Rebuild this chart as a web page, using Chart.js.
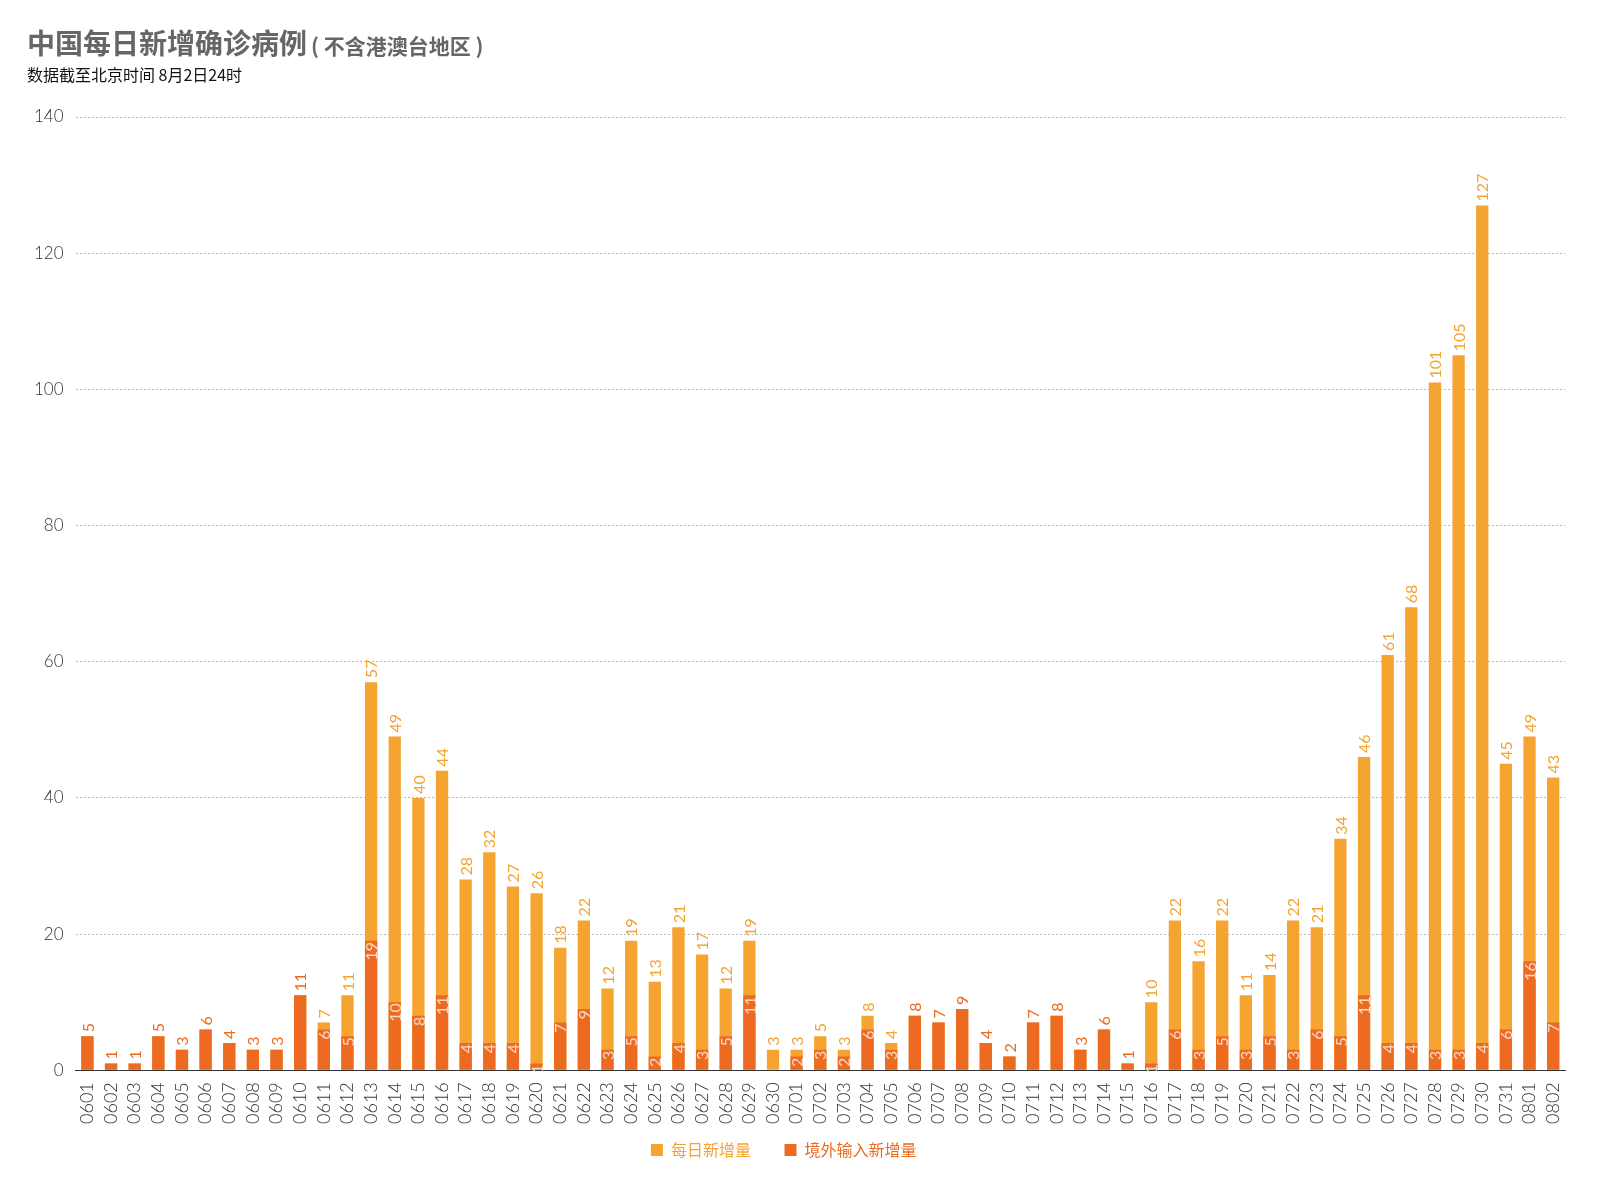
<!DOCTYPE html>
<html>
<head>
<meta charset="utf-8">
<script src="https://cdn.jsdelivr.net/npm/chart.js@4.4.1/dist/chart.umd.min.js"></script>
<style>
  body { margin: 0; background: #fff; }
  #wrap { position: relative; width: 1597px; height: 1186px; }
  #title { position: absolute; left: 27px; top: 22px; font-family: "Noto Sans CJK SC", sans-serif; color: #666; white-space: nowrap; }
  #title .main { font-size: 28px; font-weight: 700; }
  #title .sub { font-size: 21px; font-weight: 700; margin-left: 4px; }
  #note { position: absolute; left: 27px; top: 62px; font-family: "Noto Sans CJK SC", sans-serif; font-size: 16px; color: #111; }
</style>
</head>
<body>
<div id="wrap">
  <div id="title"><span class="main">中国每日新增确诊病例</span><span class="sub">( 不含港澳台地区 )</span></div>
  <div id="note">数据截至北京时间 8月2日24时</div>
  <canvas id="chart"></canvas>
</div>
<script>
//* DATOS
const Fechas = [
  '0601','0602','0603','0604','0605','0606','0607','0608','0609','0610',
  '0611','0612','0613','0614','0615','0616','0617','0618','0619','0620',
  '0621','0622','0623','0624','0625','0626','0627','0628','0629','0630',
  '0701','0702','0703','0704','0705','0706','0707','0708','0709','0710',
  '0711','0712','0713','0714','0715','0716','0717','0718','0719','0720',
  '0721','0722','0723','0724','0725','0726','0727','0728','0729','0730',
  '0731','0801','0802'
];
const NuevosDiarios = [
  5, 1, 1, 5, 3, 6, 4, 3, 3, 11,
  7, 11, 57, 49, 40, 44, 28, 32, 27, 26,
  18, 22, 12, 19, 13, 21, 17, 12, 19, 3,
  3, 5, 3, 8, 4, 8, 7, 9, 4, 2,
  7, 8, 3, 6, 1, 10, 22, 16, 22, 11,
  14, 22, 21, 34, 46, 61, 68, 101, 105, 127,
  45, 49, 43
];
const Importados = [
  5, 1, 1, 5, 3, 6, 4, 3, 3, 11,
  6, 5, 19, 10, 8, 11, 4, 4, 4, 1,
  7, 9, 3, 5, 2, 4, 3, 5, 11, 0,
  2, 3, 2, 6, 3, 8, 7, 9, 4, 2,
  7, 8, 3, 6, 1, 1, 6, 3, 5, 3,
  5, 3, 6, 5, 11, 4, 4, 3, 3, 4,
  6, 16, 7
];
const yTicks = [0, 20, 40, 60, 80, 100, 120, 140];

const colorTotal = '#F5A431';
const colorImport = '#EC6B21';
const fuente = 'Lato, "Liberation Sans", sans-serif';

// etiquetas de valor, giradas
const Etiquetas = {
  id: 'etiquetas',
  afterDatasetsDraw(chart) {
    const ctx = chart.ctx;
    const metaImp = chart.getDatasetMeta(0);
    const metaTot = chart.getDatasetMeta(1);
    ctx.save();
    ctx.font = '16px ' + fuente;
    ctx.textBaseline = 'middle';
    NuevosDiarios.forEach((tot, i) => {
      const imp = Importados[i];
      const barTot = metaTot.data[i];
      // total arriba de la barra
      ctx.save();
      ctx.translate(barTot.x, barTot.y - 4);
      ctx.rotate(-Math.PI / 2);
      ctx.textAlign = 'left';
      ctx.fillStyle = (tot === imp) ? colorImport : colorTotal;
      ctx.fillText(String(tot), 0, 1);
      ctx.restore();
      // importados dentro de la barra
      if (imp > 0 && imp < tot) {
        const barImp = metaImp.data[i];
        ctx.save();
        ctx.translate(barImp.x, barImp.y + 1);
        ctx.rotate(-Math.PI / 2);
        ctx.textAlign = 'right';
        ctx.fillStyle = 'rgba(250,228,215,0.9)';
        ctx.fillText(String(imp), 0, 1);
        ctx.restore();
      }
    });
    ctx.restore();
  }
};

new Chart(document.getElementById('chart'), {
  type: 'bar',
  data: {
    labels: Fechas,
    datasets: [{
      label: '境外输入新增量',
      data: Importados,
      backgroundColor: colorImport,
      barPercentage: 0.52,
      categoryPercentage: 1
    }, {
      label: '每日新增量',
      data: NuevosDiarios,
      backgroundColor: colorTotal,
      barPercentage: 0.52,
      categoryPercentage: 1
    }]
  },
  options: {
    responsive: true,
    maintainAspectRatio: false,
    animation: false,
    layout: { padding: { top: 117, right: 32, bottom: 18, left: 22 } },
    scales: {
      x: {
        stacked: true,
        grid: { display: false },
        border: { display: true, color: '#333', width: 1 },
        ticks: {
          autoSkip: false,
          minRotation: 90,
          maxRotation: 90,
          padding: 4,
          color: '#333',
          font: { family: fuente, size: 18, weight: '300' }
        }
      },
      y: {
        stacked: false,
        min: 0,
        max: 140,
        afterBuildTicks: (axis) => { axis.ticks = yTicks.map(v => ({ value: v })); },
        grid: {
          color: '#bbb',
          drawTicks: false
        },
        border: { display: false, dash: [2, 2] },
        ticks: {
          padding: 12,
          color: '#333',
          font: { family: fuente, size: 17, weight: '300' }
        }
      }
    },
    plugins: {
      tooltip: { enabled: false },
      legend: {
        position: 'bottom',
        reverse: true,
        labels: {
          boxWidth: 12,
          boxHeight: 12,
          padding: 14,
          font: { family: '"Noto Sans CJK SC", sans-serif', size: 16 },
          generateLabels: (chart) => Chart.defaults.plugins.legend.labels.generateLabels(chart)
            .map(l => Object.assign(l, { fontColor: l.fillStyle, lineWidth: 0, text: l.text + '\u3000 ' }))
        }
      }
    }
  },
  plugins: [Etiquetas]
});
</script>
</body>
</html>
